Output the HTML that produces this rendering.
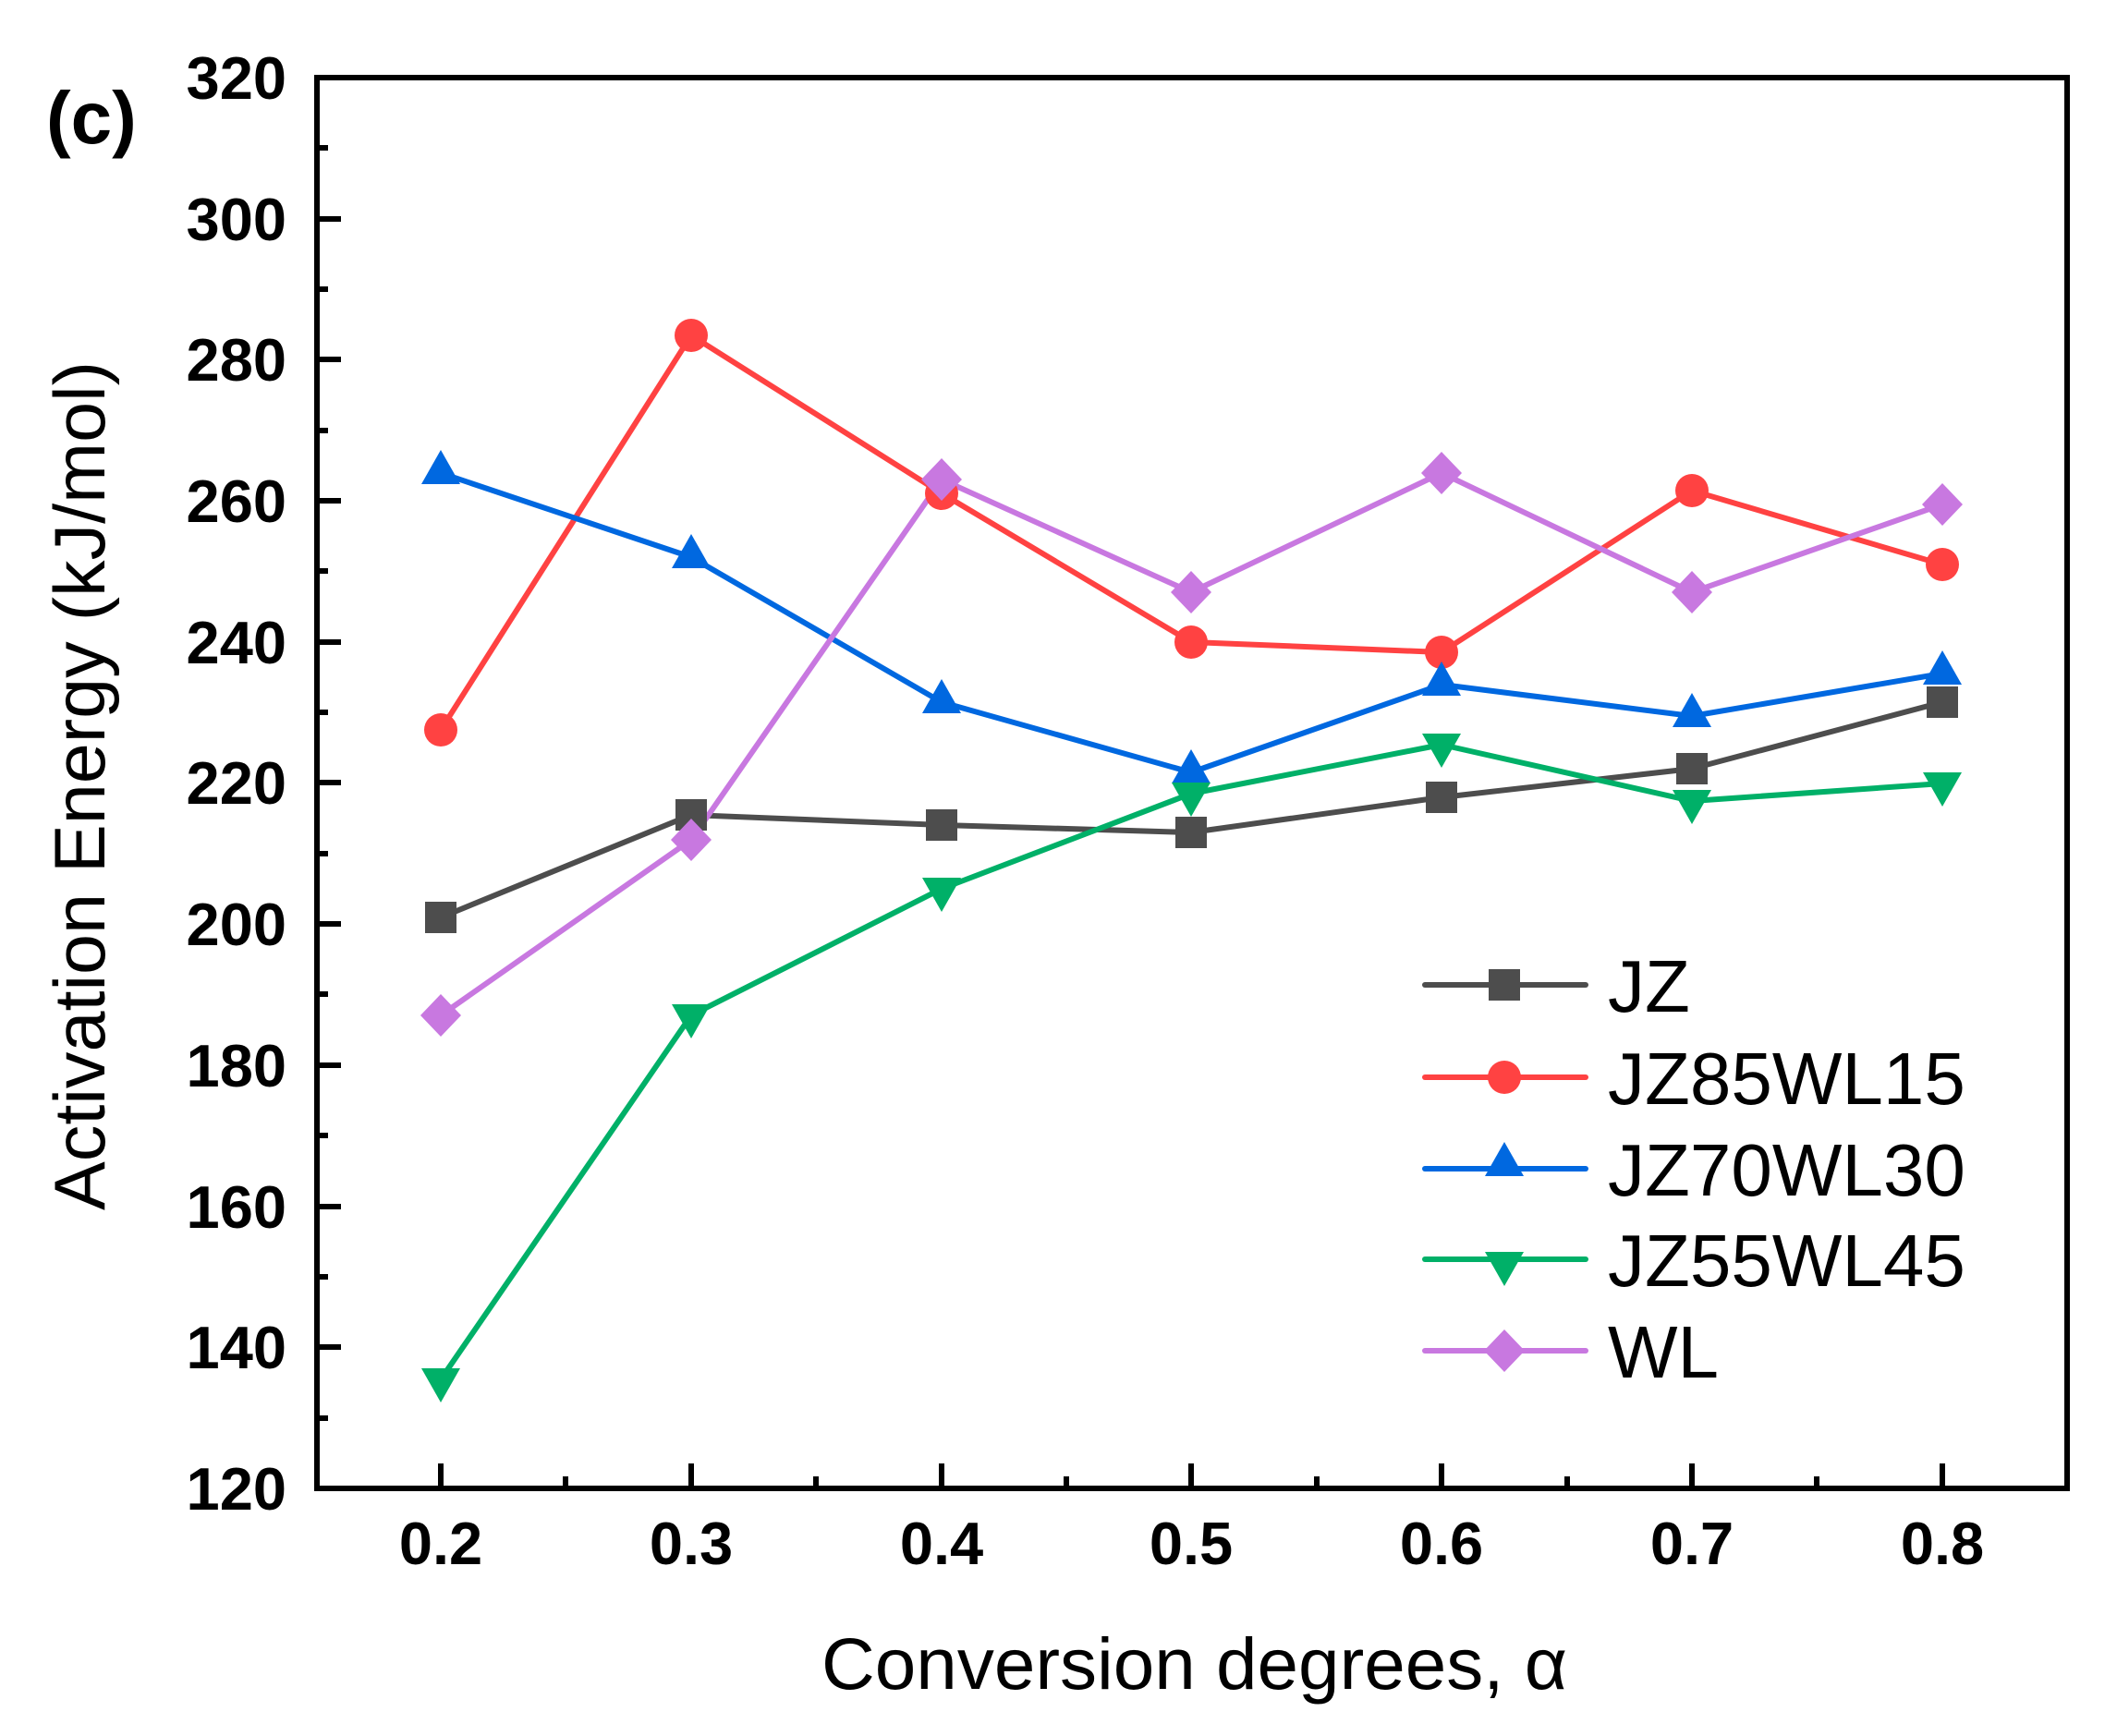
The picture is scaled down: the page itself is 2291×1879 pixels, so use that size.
<!DOCTYPE html>
<html><head><meta charset="utf-8"><style>html,body{margin:0;padding:0;background:#fff}svg{display:block}</style></head>
<body>
<svg xmlns="http://www.w3.org/2000/svg" width="2291" height="1879" viewBox="0 0 2291 1879">
<rect width="2291" height="1879" fill="#fff"/>
<g font-family="Liberation Sans, Arial, sans-serif">
<text x="50" y="155" font-size="80" font-weight="bold">(c)</text>
<g stroke="#000" stroke-width="6">
<line x1="343" y1="84" x2="369" y2="84"/>
<line x1="343" y1="237" x2="369" y2="237"/>
<line x1="343" y1="389" x2="369" y2="389"/>
<line x1="343" y1="542" x2="369" y2="542"/>
<line x1="343" y1="695" x2="369" y2="695"/>
<line x1="343" y1="847" x2="369" y2="847"/>
<line x1="343" y1="1000" x2="369" y2="1000"/>
<line x1="343" y1="1153" x2="369" y2="1153"/>
<line x1="343" y1="1306" x2="369" y2="1306"/>
<line x1="343" y1="1458" x2="369" y2="1458"/>
<line x1="343" y1="160" x2="355" y2="160"/>
<line x1="343" y1="313" x2="355" y2="313"/>
<line x1="343" y1="466" x2="355" y2="466"/>
<line x1="343" y1="618" x2="355" y2="618"/>
<line x1="343" y1="771" x2="355" y2="771"/>
<line x1="343" y1="924" x2="355" y2="924"/>
<line x1="343" y1="1076" x2="355" y2="1076"/>
<line x1="343" y1="1229" x2="355" y2="1229"/>
<line x1="343" y1="1382" x2="355" y2="1382"/>
<line x1="343" y1="1535" x2="355" y2="1535"/>
<line x1="477" y1="1611" x2="477" y2="1584"/>
<line x1="748" y1="1611" x2="748" y2="1584"/>
<line x1="1019" y1="1611" x2="1019" y2="1584"/>
<line x1="1289" y1="1611" x2="1289" y2="1584"/>
<line x1="1560" y1="1611" x2="1560" y2="1584"/>
<line x1="1831" y1="1611" x2="1831" y2="1584"/>
<line x1="2102" y1="1611" x2="2102" y2="1584"/>
<line x1="612" y1="1611" x2="612" y2="1598"/>
<line x1="883" y1="1611" x2="883" y2="1598"/>
<line x1="1154" y1="1611" x2="1154" y2="1598"/>
<line x1="1425" y1="1611" x2="1425" y2="1598"/>
<line x1="1696" y1="1611" x2="1696" y2="1598"/>
<line x1="1966" y1="1611" x2="1966" y2="1598"/>
</g>
<rect x="343" y="84" width="1894" height="1527" fill="none" stroke="#000" stroke-width="6"/>
<g font-size="65" font-weight="bold" text-anchor="end">
<text x="310" y="107">320</text><text x="310" y="260">300</text><text x="310" y="412">280</text>
<text x="310" y="565">260</text><text x="310" y="718">240</text><text x="310" y="870">220</text>
<text x="310" y="1023">200</text><text x="310" y="1176">180</text><text x="310" y="1329">160</text>
<text x="310" y="1481">140</text><text x="310" y="1634">120</text>
</g>
<g font-size="65" font-weight="bold" text-anchor="middle">
<text x="477" y="1693">0.2</text><text x="748" y="1693">0.3</text><text x="1019" y="1693">0.4</text>
<text x="1289" y="1693">0.5</text><text x="1560" y="1693">0.6</text><text x="1831" y="1693">0.7</text>
<text x="2102" y="1693">0.8</text>
</g>
<text x="889" y="1828" font-size="79" textLength="807" lengthAdjust="spacingAndGlyphs">Conversion degrees, α</text>
<text transform="translate(113,1310) rotate(-90)" font-size="78" textLength="919" lengthAdjust="spacingAndGlyphs">Activation Energy (kJ/mol)</text>
</g>
<defs>
<rect id="sq" x="-17" y="-17" width="34" height="34" fill="#4d4d4d"/>
<circle id="ci" r="18" fill="#ff4242"/>
<polygon id="tu" points="0,-25 21,12 -21,12" fill="#0068e0"/>
<polygon id="td" points="0,25 21,-12 -21,-12" fill="#00b068"/>
<polygon id="di" points="0,-23 22,0 0,23 -22,0" fill="#c878e0"/>
</defs>
<g fill="none" stroke-width="6" stroke-linejoin="round">
<polyline stroke="#4d4d4d" points="477,993 748,882 1019,893 1289,901 1560,863 1831,832 2102,760"/>
<polyline stroke="#ff4242" points="477,790 748,363 1019,534 1289,695 1560,706 1831,531 2102,611"/>
<polyline stroke="#0068e0" points="477,512 748,603 1019,760 1289,836 1560,741 1831,775 2102,729"/>
<polyline stroke="#00b068" points="477,1493 748,1099 1019,962 1289,859 1560,806 1831,867 2102,848"/>
<polyline stroke="#c878e0" points="477,1099 748,909 1019,519 1289,641 1560,512 1831,641 2102,546"/>
</g>
<use href="#sq" x="477" y="993"/><use href="#sq" x="748" y="882"/><use href="#sq" x="1019" y="893"/><use href="#sq" x="1289" y="901"/><use href="#sq" x="1560" y="863"/><use href="#sq" x="1831" y="832"/><use href="#sq" x="2102" y="760"/>
<use href="#ci" x="477" y="790"/><use href="#ci" x="748" y="363"/><use href="#ci" x="1019" y="534"/><use href="#ci" x="1289" y="695"/><use href="#ci" x="1560" y="706"/><use href="#ci" x="1831" y="531"/><use href="#ci" x="2102" y="611"/>
<use href="#tu" x="477" y="512"/><use href="#tu" x="748" y="603"/><use href="#tu" x="1019" y="760"/><use href="#tu" x="1289" y="836"/><use href="#tu" x="1560" y="741"/><use href="#tu" x="1831" y="775"/><use href="#tu" x="2102" y="729"/>
<use href="#td" x="477" y="1493"/><use href="#td" x="748" y="1099"/><use href="#td" x="1019" y="962"/><use href="#td" x="1289" y="859"/><use href="#td" x="1560" y="806"/><use href="#td" x="1831" y="867"/><use href="#td" x="2102" y="848"/>
<use href="#di" x="477" y="1099"/><use href="#di" x="748" y="909"/><use href="#di" x="1019" y="519"/><use href="#di" x="1289" y="641"/><use href="#di" x="1560" y="512"/><use href="#di" x="1831" y="641"/><use href="#di" x="2102" y="546"/>
<g stroke-width="6" stroke-linecap="round">
<line x1="1542" y1="1066" x2="1716" y2="1066" stroke="#4d4d4d"/>
<line x1="1542" y1="1166" x2="1716" y2="1166" stroke="#ff4242"/>
<line x1="1542" y1="1265" x2="1716" y2="1265" stroke="#0068e0"/>
<line x1="1542" y1="1363" x2="1716" y2="1363" stroke="#00b068"/>
<line x1="1542" y1="1462" x2="1716" y2="1462" stroke="#c878e0"/>
</g>
<use href="#sq" x="1628" y="1066"/><use href="#ci" x="1628" y="1166"/><use href="#tu" x="1628" y="1261"/><use href="#td" x="1628" y="1367"/><use href="#di" x="1628" y="1462"/>
<g font-family="Liberation Sans, Arial, sans-serif" font-size="80">
<text x="1740" y="1095">JZ</text>
<text x="1740" y="1195">JZ85WL15</text>
<text x="1740" y="1294">JZ70WL30</text>
<text x="1740" y="1392">JZ55WL45</text>
<text x="1740" y="1491">WL</text>
</g>
</svg>
</body></html>
